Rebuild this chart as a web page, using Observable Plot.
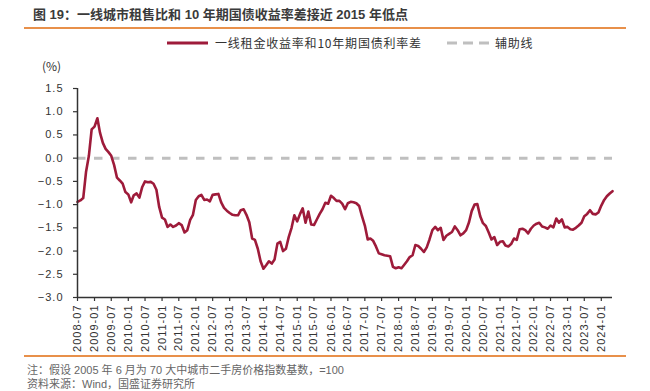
<!DOCTYPE html>
<html>
<head>
<meta charset="utf-8">
<script src="https://cdn.jsdelivr.net/npm/d3@7"></script>
<script src="https://cdn.jsdelivr.net/npm/@observablehq/plot@0.6"></script>
<style>
  html, body { margin: 0; padding: 0; background: #fff; }
  #wrap { position: relative; width: 650px; height: 391px; overflow: hidden; font-family: "Liberation Sans", Arial, "Noto Sans CJK SC", sans-serif; }
  .title { position: absolute; left: 33px; top: 4px; font-size: 13px; font-weight: bold; color: #3a3a3a; font-family: "Liberation Sans", Arial, "Noto Sans CJK SC", sans-serif; white-space: nowrap; }
  .hr { position: absolute; left: 24px; width: 602px; height: 1.5px; background: #E8904A; }
  .legend { position: absolute; top: 35px; font-size: 12px; color: #333; font-family: "Noto Sans CJK SC", sans-serif; letter-spacing: 0.8px; white-space: nowrap; line-height: 16px; }
  .unit { position: absolute; left: 42px; top: 57px; font-size: 12px; color: #333; font-family: "Noto Sans CJK SC", sans-serif; }
  .note { position: absolute; left: 27px; font-size: 11px; line-height: 12px; color: #666; font-family: "Liberation Sans", Arial, "Noto Sans CJK SC", sans-serif; white-space: nowrap; }
  #chart { position: absolute; left: 0; top: 60px; }
  #chart svg text { letter-spacing: 1px; }
</style>
</head>
<body>
<div id="wrap">
  <div class="title">图 19：一线城市租售比和 10 年期国债收益率差接近 2015 年低点</div>
  <div class="hr" style="top:27px"></div>
  <svg style="position:absolute;left:160px;top:35px" width="400" height="18">
    <line x1="7" y1="8" x2="48" y2="8" stroke="#9E1B3A" stroke-width="3"/>
    <line x1="287" y1="8" x2="329" y2="8" stroke="#BFBFBF" stroke-width="3" stroke-dasharray="10,6"/>
  </svg>
  <div class="legend" style="left:215px">一线租金收益率和10年期国债利率差</div>
  <div class="legend" style="left:495px">辅助线</div>
  <div class="unit">(%)</div>
  <div id="chart"></div>
  <div class="hr" style="top:355px"></div>
  <div class="note" style="top:364px">注：假设 2005 年 6 月为 70 大中城市二手房价格指数基数，=100</div>
  <div class="note" style="top:378px">资料来源：Wind，国盛证券研究所</div>
</div>
<script>
// Monthly series start
const startMonth = "2008-07";
// Spread between tier-1 rental yield and 10Y government bond yield (%), monthly, 2008-07 .. 2024-05
const spread = [
  -0.94, -0.91, -0.86, -0.30, 0.05, 0.62, 0.68, 0.86, 0.55, 0.33,
  0.20, 0.13, 0.05, -0.15, -0.42, -0.48, -0.55, -0.73, -0.78, -0.95,
  -0.80, -0.76, -0.85, -0.62, -0.50, -0.52, -0.51, -0.55, -0.68, -1.05,
  -1.28, -1.32, -1.48, -1.43, -1.48, -1.45, -1.40, -1.44, -1.60, -1.55,
  -1.33, -1.22, -0.90, -0.82, -0.79, -0.90, -0.89, -0.93, -0.79, -0.78,
  -0.77, -0.95, -1.07, -1.13, -1.18, -1.22, -1.23, -1.23, -1.12, -1.10,
  -1.22, -1.38, -1.73, -1.76, -1.95, -2.22, -2.38, -2.30, -2.22, -2.27,
  -2.18, -1.84, -1.80, -2.00, -1.95, -1.70, -1.50, -1.23, -1.36, -1.20,
  -1.08, -1.39, -1.15, -1.43, -1.44, -1.32, -1.20, -1.10, -0.96, -0.98,
  -0.81, -0.86, -0.92, -0.92, -0.98, -1.10, -0.97, -0.94, -0.95, -0.97,
  -1.03, -1.25, -1.45, -1.75, -1.73, -1.78, -1.90, -2.05, -2.07, -2.09,
  -2.10, -2.11, -2.34, -2.37, -2.35, -2.37, -2.30, -2.22, -2.13, -2.09,
  -1.87, -1.89, -1.95, -2.02, -1.92, -1.75, -1.55, -1.48, -1.55, -1.50,
  -1.76, -1.67, -1.63, -1.59, -1.47, -1.55, -1.66, -1.62, -1.55, -1.38,
  -1.14, -1.00, -0.99, -1.25, -1.40, -1.46, -1.60, -1.75, -1.70, -1.87,
  -1.80, -1.79, -1.88, -1.90, -1.85, -1.73, -1.76, -1.53, -1.52, -1.55,
  -1.62, -1.52, -1.45, -1.41, -1.39, -1.47, -1.49, -1.52, -1.45, -1.49,
  -1.30, -1.39, -1.32, -1.49, -1.48, -1.53, -1.54, -1.50, -1.45, -1.39,
  -1.25, -1.20, -1.12, -1.20, -1.21, -1.17, -1.02, -0.90, -0.82, -0.76,
  -0.71
];
const helperLine = [0];
const yTicks = [-3.0, -2.5, -2.0, -1.5, -1.0, -0.5, 0.0, 0.5, 1.0, 1.5];
const xTickLabels = [
  "2008-07","2009-01","2009-07","2010-01","2010-07","2011-01","2011-07","2012-01",
  "2012-07","2013-01","2013-07","2014-01","2014-07","2015-01","2015-07","2016-01",
  "2016-07","2017-01","2017-07","2018-01","2018-07","2019-01","2019-07","2020-01",
  "2020-07","2021-01","2021-07","2022-01","2022-07","2023-01","2023-07","2024-01"
];

const parseM = d3.utcParse("%Y-%m");
const fmtM = d3.utcFormat("%Y-%m");
const t0 = parseM(startMonth);
const data = spread.map((v, i) => ({date: d3.utcMonth.offset(t0, i), value: v}));
const tEnd = data[data.length - 1].date;
const xTicks = xTickLabels.map(parseM);
const fmtY = d => d3.format(".1f")(d).replace("-", "\u2212");

const chart = Plot.plot({
  width: 650,
  height: 296,
  marginLeft: 77,
  marginRight: 38,
  marginTop: 28,
  marginBottom: 59,
  style: {fontFamily: "'Liberation Sans', Arial, sans-serif", fontSize: "11px", color: "#333", background: "transparent"},
  x: {type: "utc", domain: [t0, tEnd]},
  y: {domain: [-3, 1.5]},
  marks: [
    Plot.ruleY(helperLine, {stroke: "#BFBFBF", strokeWidth: 3, strokeDasharray: "8.5,8.5"}),
    Plot.line(data, {x: "date", y: "value", stroke: "#9E1B3A", strokeWidth: 2.6, curve: "linear"}),
    Plot.ruleX([t0], {stroke: "#333", strokeWidth: 1.5}),
    Plot.ruleY([-3], {stroke: "#333", strokeWidth: 1.5}),
    Plot.axisY({ticks: yTicks, tickFormat: fmtY, tickSize: 4, tickPadding: 10, stroke: "#333", strokeWidth: 1.2, label: null}),
    Plot.axisX({ticks: xTicks, tickFormat: fmtM, tickSize: 4, tickPadding: 3, tickRotate: -90, stroke: "#333", strokeWidth: 1.2, label: null})
  ]
});
document.getElementById("chart").appendChild(chart);
</script>
</body>
</html>
